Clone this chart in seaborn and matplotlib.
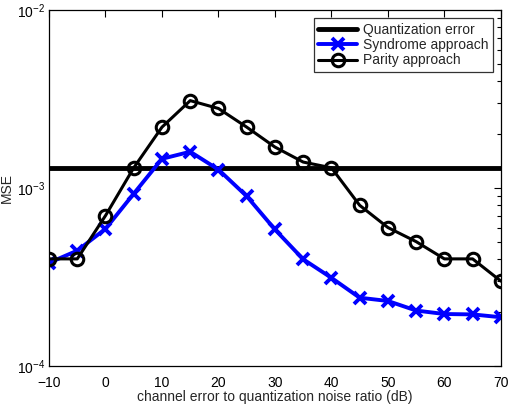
import numpy as np
import pandas as pd
import matplotlib
matplotlib.use("Agg")
import matplotlib.pyplot as plt
import seaborn as sns
from matplotlib.ticker import LogLocator, NullFormatter, FixedLocator

snr_db = [-10, -5, 0, 5, 10, 15, 20, 25, 30, 35, 40, 45, 50, 55, 60, 65, 70]
quantization_error = 1.3e-3
syndrome_mse = [3.8e-4, 4.45e-4, 5.9e-4, 9.3e-4, 1.46e-3, 1.6e-3, 1.27e-3, 9.0e-4,
                5.85e-4, 3.98e-4, 3.13e-4, 2.42e-4, 2.32e-4, 2.05e-4, 1.96e-4, 1.95e-4, 1.88e-4]
parity_mse = [4.0e-4, 4.0e-4, 7.0e-4, 1.3e-3, 2.2e-3, 3.1e-3, 2.8e-3, 2.2e-3,
              1.7e-3, 1.4e-3, 1.3e-3, 8.0e-4, 6.0e-4, 5.0e-4, 4.0e-4, 4.0e-4, 3.0e-4]
labels = ["Quantization error", "Syndrome approach", "Parity approach"]

sns.set_theme(style="white")
plt.rcParams["font.family"] = ["Liberation Sans", "DejaVu Sans"]
plt.rcParams["mathtext.fontset"] = "custom"
plt.rcParams["mathtext.rm"] = "Liberation Sans"
plt.rcParams["mathtext.it"] = "Liberation Sans"

fig = plt.figure(figsize=(5.1, 4.04), dpi=100)
ax = fig.add_axes([0.0961, 0.094, 0.886, 0.881])

df = pd.DataFrame({"snr": snr_db,
                   "quant": [quantization_error] * len(snr_db),
                   "syn": syndrome_mse,
                   "par": parity_mse})

sns.lineplot(data=df, x="snr", y="quant", ax=ax, color="black", linewidth=3.5,
             label=labels[0])
sns.lineplot(data=df, x="snr", y="syn", ax=ax, color="#0000ff", linewidth=2.8,
             marker="x", markersize=8, markeredgewidth=2.8, markeredgecolor="#0000ff",
             label=labels[1])
sns.lineplot(data=df, x="snr", y="par", ax=ax, color="black", linewidth=2.2,
             marker="o", markersize=9, markeredgewidth=2.2, markerfacecolor="none",
             markeredgecolor="black", label=labels[2])

ax.set_yscale("log")
ax.set_xlim(-10, 70)
ax.set_ylim(1e-4, 1e-2)
ax.set_xticks(list(range(-10, 71, 10)))
ax.set_xticklabels(["\u221210"] + [str(v) for v in range(0, 71, 10)])
ax.yaxis.set_major_locator(FixedLocator([1e-4, 1e-3, 1e-2]))
ax.set_yticklabels([r"$10^{-4}$", r"$10^{-3}$", r"$10^{-2}$"])
ax.yaxis.set_minor_locator(LogLocator(base=10, subs=np.arange(2, 10)))
ax.yaxis.set_minor_formatter(NullFormatter())

ax.tick_params(which="both", direction="in", top=True, right=True,
               labelsize=10, colors="black")
ax.tick_params(which="major", length=5, width=0.8)
ax.tick_params(axis="x", which="major", pad=7)
ax.tick_params(axis="y", which="major", pad=3)
ax.tick_params(which="minor", length=3, width=0.8)
for s in ax.spines.values():
    s.set_color("black")
    s.set_linewidth(0.9)

ax.set_xlabel("channel error to quantization noise ratio (dB)", fontsize=10, labelpad=0)
ax.set_ylabel("MSE", fontsize=10, labelpad=2)

leg = ax.legend(loc="upper right", fontsize=10, frameon=True, fancybox=False,
                edgecolor="black", handlelength=2.8, borderpad=0.3,
                labelspacing=0.1, handletextpad=0.4, borderaxespad=0.6)
leg.get_frame().set_linewidth(0.9)

fig.savefig("out.png", dpi=100)
